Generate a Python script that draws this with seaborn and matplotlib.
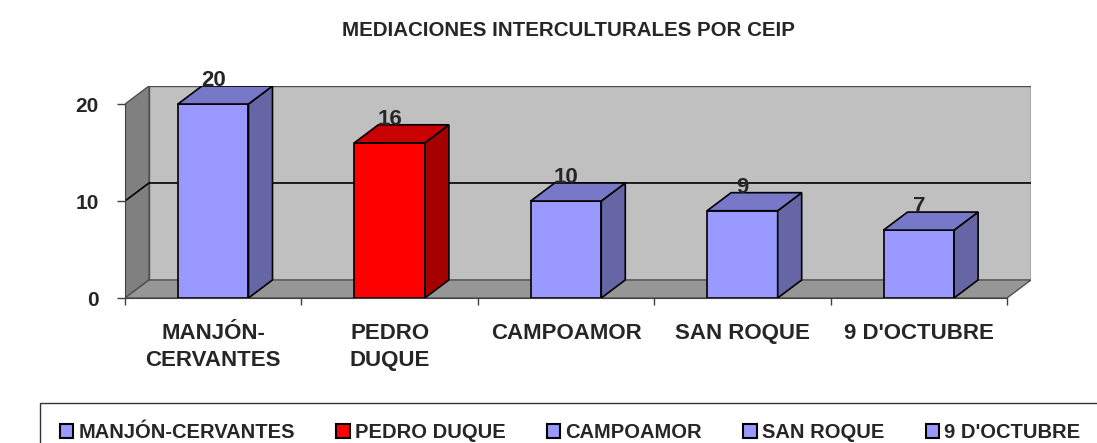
import matplotlib
matplotlib.use("Agg")
import matplotlib.pyplot as plt
import seaborn as sns
import numpy as np
from matplotlib.patches import Polygon, Patch, Rectangle

# datos
categorias = ["MANJÓN-CERVANTES", "PEDRO DUQUE", "CAMPOAMOR", "SAN ROQUE", "9 D'OCTUBRE"]
etiquetas_eje = ["MANJÓN-\nCERVANTES", "PEDRO\nDUQUE", "CAMPOAMOR", "SAN ROQUE", "9 D'OCTUBRE"]
valores = [20, 16, 10, 9, 7]
colores = ["#9999FF", "#FF0000", "#9999FF", "#9999FF", "#9999FF"]
lados = ["#6666A6", "#A50000", "#6666A6", "#6666A6", "#6666A6"]
techos = ["#7878C8", "#C80000", "#7878C8", "#7878C8", "#7878C8"]
yticks = [0, 10, 20]

sns.set_style("white")
plt.rcParams["font.family"] = ["Liberation Sans", "DejaVu Sans"]
plt.rcParams["font.weight"] = "bold"

fig = plt.figure(figsize=(10.97, 4.43), dpi=100)
ax = fig.add_axes([125 / 1097, 145 / 443, (1031 - 125) / 1097, (357 - 145) / 443])

dx = 24 / 176.4   # profundidad en unidades de categoria
dy = 1.86         # profundidad en unidades de valor
ymax = 20
n = len(categorias)
x0, x1 = -0.5, n - 0.5

sns.barplot(x=categorias, y=valores, hue=categorias, palette=colores, legend=False,
            width=0.4, edgecolor="black", linewidth=1.2, ax=ax, zorder=3, saturation=1)
barras = [p for p in ax.patches if isinstance(p, Rectangle)]

# paredes
ax.add_patch(Polygon([(x0 + dx, dy), (x1 + dx, dy), (x1 + dx, ymax + dy), (x0 + dx, ymax + dy)],
                     closed=True, facecolor="#C0C0C0", edgecolor="#505050", lw=1, zorder=0))
ax.add_patch(Polygon([(x0, 0), (x0 + dx, dy), (x0 + dx, ymax + dy), (x0, ymax)],
                     closed=True, facecolor="#808080", edgecolor="#505050", lw=1, zorder=0))
ax.add_patch(Polygon([(x0, 0), (x1, 0), (x1 + dx, dy), (x0 + dx, dy)],
                     closed=True, facecolor="#969696", edgecolor="#505050", lw=1, zorder=0))
# linea de cuadricula en 10
ax.plot([x0, x0 + dx, x1 + dx], [10, 10 + dy, 10 + dy], color="black", lw=1.2, zorder=1)

for p, lado, techo, v in zip(barras, lados, techos, valores):
    bx, bw, bh = p.get_x(), p.get_width(), p.get_height()
    ax.add_patch(Polygon([(bx + bw, 0), (bx + bw + dx, dy), (bx + bw + dx, bh + dy), (bx + bw, bh)],
                         closed=True, facecolor=lado, edgecolor="black", lw=1.2, zorder=3))
    ax.add_patch(Polygon([(bx, bh), (bx + dx, bh + dy), (bx + bw + dx, bh + dy), (bx + bw, bh)],
                         closed=True, facecolor=techo, edgecolor="black", lw=1.2, zorder=3))
    ax.text(bx + bw / 2, bh + dy, str(v), ha="center", va="baseline",
            fontsize=16, fontweight="bold", zorder=5, clip_on=False)

ax.set_xlim(x0, x1 + dx)
ax.set_ylim(0, ymax + dy)
ax.set_xlabel("")
ax.set_ylabel("")
for s in ["top", "right"]:
    ax.spines[s].set_visible(False)
ax.spines["left"].set_bounds(0, ymax)
ax.spines["bottom"].set_bounds(x0, x1)
ax.spines["left"].set_color("#404040")
ax.spines["bottom"].set_color("#404040")
ax.spines["left"].set_zorder(4)
ax.spines["bottom"].set_zorder(4)

ax.set_yticks(yticks)
ax.set_yticklabels([str(t) for t in yticks], fontsize=15, fontweight="bold")
ax.tick_params(axis="y", direction="out", length=6, width=1, color="#404040", pad=13, left=True)
ax.set_xticks(range(n))
ax.set_xticklabels(etiquetas_eje, fontsize=16, fontweight="bold", linespacing=1.4)
ax.set_xticks(np.arange(x0, x1 + 0.01, 1), minor=True)
ax.tick_params(axis="x", which="major", length=0, pad=18)
ax.tick_params(axis="x", which="minor", direction="out", length=5, width=1, color="#404040", bottom=True)

fig.text(568 / 1097, 1 - 30 / 443, "MEDIACIONES INTERCULTURALES POR CEIP",
         ha="center", va="center", fontsize=14.8, fontweight="bold")

handles = [Patch(facecolor=c, edgecolor="black", lw=1.5) for c in colores]
leg = fig.legend(handles, categorias, loc="lower left", ncol=5, mode="expand",
                 bbox_to_anchor=(40 / 1097, -19 / 443, 1060 / 1097, 60 / 443), frameon=True,
                 fancybox=False, prop={"size": 14.5, "weight": "bold"}, handlelength=0.65,
                 handleheight=0.65, handletextpad=0.25, borderaxespad=0, borderpad=1.0)
leg.get_frame().set_edgecolor("black")
leg.get_frame().set_linewidth(1)

fig.savefig("out.png", dpi=100)
